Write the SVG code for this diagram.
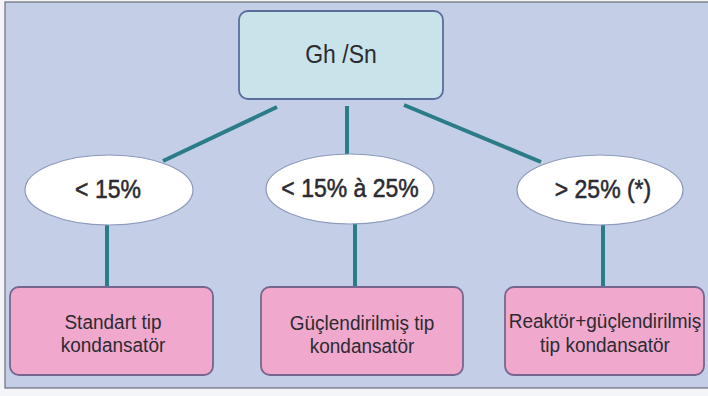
<svg xmlns="http://www.w3.org/2000/svg" width="708" height="396" viewBox="0 0 708 396">
  <style>
    .panel { fill: #c4cee7; stroke: #6a6e78; stroke-width: 1.2; }
    .root rect { fill: #c9e3ea; stroke: #5a6e9c; stroke-width: 1.8; }
    .cond ellipse { fill: #ffffff; stroke: #8c9bbb; stroke-width: 1.2; }
    .result rect { fill: #f0a9cd; stroke: #76668e; stroke-width: 1.8; }
    .link line { stroke: #2a7c86; stroke-width: 4; stroke-linecap: butt; }
    text { font-family: "Liberation Sans", Arial, sans-serif; fill: #2b2b31; text-anchor: middle; }
    .t-root { font-size: 23px; }
    .t-cond { font-size: 23px; stroke: #2b2b31; stroke-width: 0.5; }
    .t-res { font-size: 19px; }
  </style>

  <rect x="0" y="0" width="708" height="396" fill="#f4f5f8"/>
  <rect class="panel" x="5" y="2" width="710" height="386"/>

  <g id="connectors" class="link">
    <line x1="277" y1="107" x2="163" y2="161"/>
    <line x1="347" y1="106" x2="347" y2="155"/>
    <line x1="404" y1="105" x2="541" y2="162"/>
    <line x1="107" y1="223" x2="107" y2="288"/>
    <line x1="355" y1="222" x2="355" y2="288"/>
    <line x1="603" y1="224" x2="603" y2="288"/>
  </g>

  <g id="node-ghsn" class="root">
    <rect x="239" y="11" width="204" height="88" rx="9"/>
    <text class="t-root" transform="translate(341,63) scale(1,1.1)">Gh /Sn</text>
  </g>

  <g id="node-lt15" class="cond">
    <ellipse cx="109" cy="190" rx="84" ry="35"/>
    <text class="t-cond" transform="translate(108,198) scale(1,1.1)">&lt; 15%</text>
  </g>
  <g id="node-15to25" class="cond">
    <ellipse cx="350" cy="189" rx="84" ry="35"/>
    <text class="t-cond" transform="translate(350,197) scale(1,1.1)">&lt; 15% à 25%</text>
  </g>
  <g id="node-gt25" class="cond">
    <ellipse cx="600" cy="190" rx="83" ry="35"/>
    <text class="t-cond" transform="translate(603,198) scale(1,1.1)">&gt; 25% (*)</text>
  </g>

  <g id="node-standart" class="result">
    <rect x="10" y="287" width="203" height="88" rx="9"/>
    <text class="t-res" transform="translate(113,329) scale(1,1.08)">Standart tip</text>
    <text class="t-res" transform="translate(113,352) scale(1,1.08)">kondansatör</text>
  </g>
  <g id="node-guclendirilmis" class="result">
    <rect x="261" y="287" width="202" height="88" rx="9"/>
    <text class="t-res" transform="translate(362,330) scale(1,1.08)">Güçlendirilmiş tip</text>
    <text class="t-res" transform="translate(362,353) scale(1,1.08)">kondansatör</text>
  </g>
  <g id="node-reaktor" class="result">
    <rect x="505" y="287" width="199" height="88" rx="9"/>
    <text class="t-res" transform="translate(605,328) scale(1,1.08)">Reaktör+güçlendirilmiş</text>
    <text class="t-res" transform="translate(605,352) scale(1,1.08)">tip kondansatör</text>
  </g>
</svg>
